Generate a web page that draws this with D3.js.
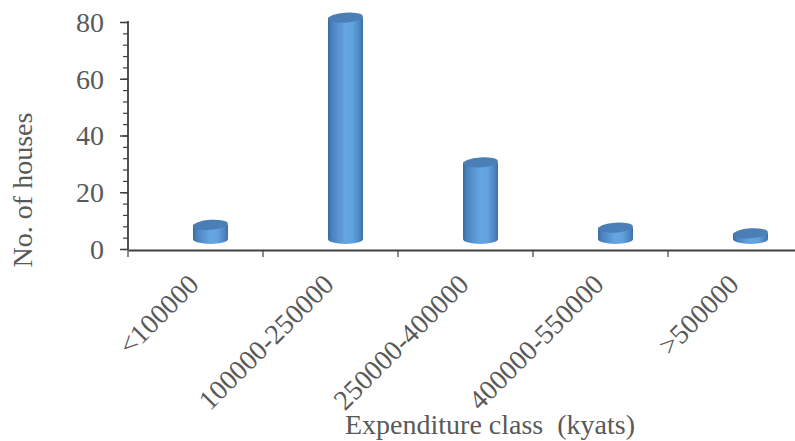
<!DOCTYPE html>
<html><head><meta charset="utf-8">
<script src="https://cdn.jsdelivr.net/npm/d3@7"></script>
<style>
html,body{margin:0;padding:0;background:#fff;}
svg{display:block;}
</style></head>
<body>
<svg id="chart" width="795" height="441"></svg>
<script>
const categories = ["<100000", "100000-250000", "250000-400000", "400000-550000", ">500000"];
const houses = [5, 78, 27, 4, 2];
const yTicks = [0, 20, 40, 60, 80];
const yMinorTicks = [0,4,8,12,16,20,24,28,32,36,40,44,48,52,56,60,64,68,72,76,80];
const yTitle = "No. of houses";
const xTitle = "Expenditure class  (kyats)";

const svg = d3.select("#chart");
const plotLeft = 128, plotTop = 22, plotBottom = 249;
const x = d3.scaleBand().domain(categories).range([plotLeft, plotLeft + 135 * categories.length]).paddingInner(0).paddingOuter(0);
const y = d3.scaleLinear().domain([0, 80]).range([plotBottom, plotTop]);

const depthX = 15, depthY = -10;
const font = "'Liberation Serif','Times New Roman',serif";
const fs = 28;
const textColor = "#595959";
const axisColor = "#404040";

const defs = svg.append("defs");
const bodyGrad = defs.append("linearGradient").attr("id", "bodyGrad").attr("x1", "0").attr("x2", "1").attr("y1", "0").attr("y2", "0");
[["0%", "#3a6aa0"], ["12%", "#4b84c0"], ["50%", "#65a6e2"], ["70%", "#62a2de"], ["90%", "#4e86c2"], ["100%", "#3d6fa6"]]
  .forEach(([o, c]) => bodyGrad.append("stop").attr("offset", o).attr("stop-color", c));
const topGrad = defs.append("linearGradient").attr("id", "topGrad").attr("x1", "0").attr("x2", "1").attr("y1", "0").attr("y2", "0");
[["0%", "#4a7db4"], ["100%", "#4b80b9"]].forEach(([o, c]) => topGrad.append("stop").attr("offset", o).attr("stop-color", c));

// Y axis major
const yAxis = svg.append("g").attr("transform", `translate(${plotLeft},0)`)
  .call(d3.axisLeft(y).tickValues(yTicks).tickSize(8).tickPadding(16).tickFormat(d3.format("d")));
yAxis.select(".domain").remove();
yAxis.selectAll("line").attr("stroke", axisColor).attr("stroke-width", 1.5);
yAxis.selectAll("text").attr("font-family", font).attr("font-size", fs).attr("fill", textColor).attr("dy", "0.33em");

const yMinor = svg.append("g").attr("transform", `translate(${plotLeft},0)`)
  .call(d3.axisLeft(y).tickValues(yMinorTicks).tickSize(5).tickFormat(""));
yMinor.select(".domain").remove();
yMinor.selectAll("line").attr("stroke", axisColor).attr("stroke-width", 1.2);

svg.append("line").attr("x1", plotLeft).attr("x2", plotLeft).attr("y1", y(80) - 1).attr("y2", plotBottom + 1)
  .attr("stroke", axisColor).attr("stroke-width", 1.8);

// X axis
const xAxis = svg.append("g").attr("transform", `translate(0,${plotBottom + 1})`)
  .call(d3.axisBottom(x).tickSize(0).tickFormat(""));
xAxis.select(".domain").attr("stroke", axisColor).attr("stroke-width", 1.8);
const boundaries = categories.map(c => x(c)).concat([x(categories[categories.length - 1]) + x.bandwidth()]);
svg.append("g").selectAll("line").data(boundaries).join("line")
  .attr("x1", d => d).attr("x2", d => d).attr("y1", plotBottom + 1).attr("y2", plotBottom + 8)
  .attr("stroke", axisColor).attr("stroke-width", 1.2);

// X labels
svg.append("g").selectAll("text").data(categories).join("text")
  .attr("transform", d => `translate(${x(d) + x.bandwidth() / 2 + 5},${plotBottom + 37}) rotate(-45)`)
  .attr("text-anchor", "end")
  .attr("font-family", font).attr("font-size", fs).attr("fill", textColor)
  .text(d => d);

// Cylinders
const rx = 17.5, ry = 5;
const bars = svg.append("g").selectAll("g").data(categories.map((c, i) => ({ c, v: houses[i] }))).join("g");
bars.append("path")
  .attr("d", d => {
    const cx = x(d.c) + x.bandwidth() / 2 + depthX;
    const yb = y(0) + depthY, yt = y(d.v) + depthY;
    return `M${cx - rx},${yt} L${cx - rx},${yb} A${rx},${ry} 0 0 0 ${cx + rx},${yb} L${cx + rx},${yt} Z`;
  })
  .attr("fill", "url(#bodyGrad)");
bars.append("ellipse")
  .attr("cx", d => x(d.c) + x.bandwidth() / 2 + depthX)
  .attr("cy", d => y(d.v) + depthY)
  .attr("rx", rx).attr("ry", ry)
  .attr("transform", d => `rotate(-4,${x(d.c) + x.bandwidth() / 2 + depthX},${y(d.v) + depthY})`)
  .attr("fill", "url(#topGrad)");

// Titles
svg.append("text")
  .attr("transform", `translate(32,190) rotate(-90)`)
  .attr("text-anchor", "middle")
  .attr("font-family", font).attr("font-size", fs).attr("fill", textColor)
  .text(yTitle);
svg.append("text")
  .attr("x", 490).attr("y", 434)
  .attr("text-anchor", "middle")
  .style("white-space", "pre")
  .attr("font-family", font).attr("font-size", fs).attr("fill", textColor)
  .text(xTitle);
</script>
</body></html>
